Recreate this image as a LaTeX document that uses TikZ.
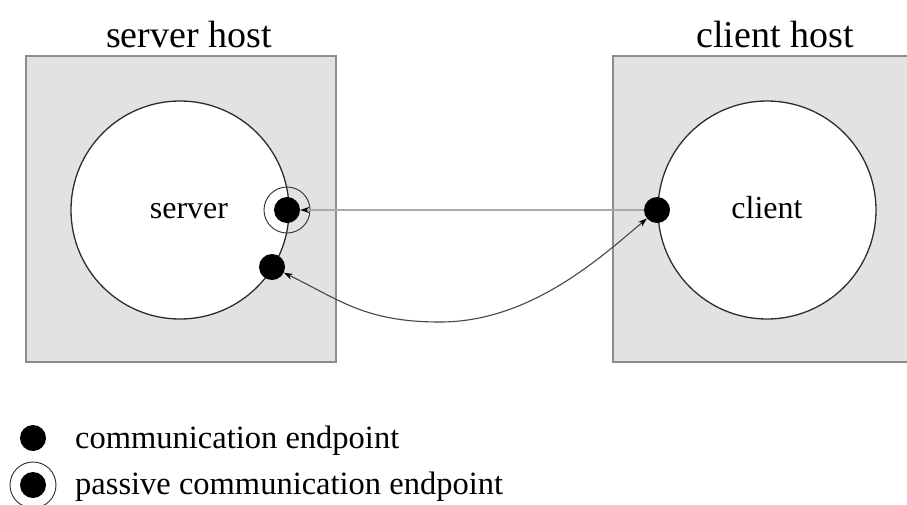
\documentclass[tikz,border=0pt]{standalone}
\usepackage{fontspec}
\setmainfont{Liberation Serif}
\usetikzlibrary{arrows.meta}
\definecolor{hostfill}{RGB}{226,226,226}
\definecolor{hostline}{RGB}{140,140,140}
\definecolor{procline}{RGB}{45,45,45}
\definecolor{msgline}{RGB}{170,170,170}
\definecolor{curveline}{RGB}{70,70,70}
\tikzset{
  hostbox/.style={draw=hostline, fill=hostfill, line width=1.6pt},
  proc/.style={circle, draw=procline, fill=white, line width=1.3pt, minimum size=218pt, inner sep=0pt},
  endpt/.style={circle, fill=black, minimum size=26pt, inner sep=0pt},
  passring/.style={circle, draw=procline, line width=0.9pt, minimum size=46pt, inner sep=0pt},
  titletext/.style={font=\fontsize{38}{40}\selectfont, anchor=base, inner sep=0pt},
  labeltext/.style={font=\fontsize{32}{34}\selectfont, anchor=base, inner sep=0pt},
  legendtext/.style={font=\fontsize{32.5}{34}\selectfont, anchor=base west, inner sep=0pt},
  tip/.style={-{Stealth[black,length=9pt,width=6pt]}},
}
\begin{document}
\begin{tikzpicture}[x=1pt,y=-1pt]
\useasboundingbox (0,0) rectangle (907,504);
\fill[white] (0,0) rectangle (907,504);
% host boxes
\draw[hostbox] (26,56) rectangle (336,362);
\draw[hostbox] (613,56) rectangle (915,362);
\node[titletext] (st) at (189,47) {server host};
\node[titletext] (ct) at (775,47) {client host};
% processes
\node[proc] (server) at (180,210) {};
\node[proc] (client) at (767,210) {};
\node[labeltext] (sl) at (189,218) {server};
\node[labeltext] (cl) at (767,218) {client};
% endpoints
\node[passring] (pr) at (287,210) {};
\node[endpt] (pe) at (287,210) {};
\node[endpt] (se) at (272,267) {};
\node[endpt] (ce) at (657,210) {};
\coordinate (bot) at (440,322);
% connectors
\draw[tip, draw=msgline, line width=2.2pt] (ce) -- (pe);
\draw[{Stealth[black,length=9pt,width=6pt]}-{Stealth[black,length=9pt,width=6pt]}, draw=curveline, line width=1.1pt]
  (se) .. controls (340,300) and (365,322) .. (bot)
       .. controls (530,322) and (600,258) .. (ce);
% legend
\node[endpt] (l1) at (33,438) {};
\node[passring] (l2r) at (33,485) {};
\node[endpt] (l2) at (33,485) {};
\node[legendtext] (lt1) at (75,448) {communication endpoint};
\node[legendtext] (lt2) at (75,494) {passive communication endpoint};
\end{tikzpicture}
\end{document}
